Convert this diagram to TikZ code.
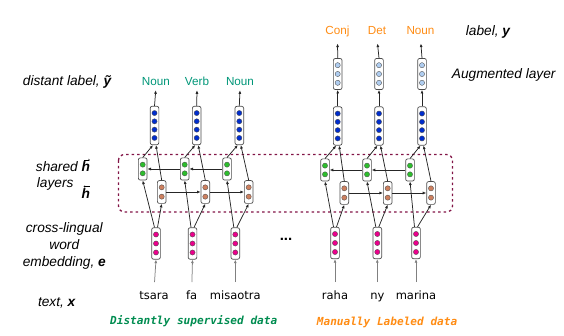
\documentclass[tikz,border=0pt]{standalone}
\usepackage{fontspec}
\setmainfont{Liberation Sans}
\newfontfamily\wordfont{DejaVu Sans}
\newfontfamily\codefont{DejaVu Sans Mono}
\usetikzlibrary{arrows.meta}
\definecolor{tagteal}{RGB}{0,150,120}
\definecolor{tagorange}{RGB}{255,140,20}
\definecolor{codegreen}{RGB}{0,140,80}
\definecolor{codeorange}{RGB}{255,140,20}
\definecolor{boxmaroon}{RGB}{130,20,70}
\definecolor{dotblue}{RGB}{0,45,205}
\definecolor{dotlight}{RGB}{175,205,240}
\definecolor{dotgreen}{RGB}{45,190,45}
\definecolor{dotbrown}{RGB}{205,128,95}
\definecolor{dotpink}{RGB}{235,0,140}
\newcommand\mycell[6]{%
  \pgfmathsetmacro\cellh{(#4-1)*#5+13.5}
  \node[cellbox, minimum height=\cellh pt] (#1) at (#2,#3) {};
  \foreach \k in {1,...,#4}{
    \filldraw[draw=black!70, fill=#6, line width=0.35pt]
      (#2, {#3 + (\k - (#4+1)/2)*#5}) circle[radius=2.6pt];
  }%
}
\begin{document}
\begin{tikzpicture}[x=1pt,y=-1pt,
  cellbox/.style={draw=black!70, rounded corners=2pt, minimum width=8.7pt, inner sep=0pt, line width=0.7pt, fill=white},
  arr/.style={-{Latex[length=3.6pt,width=3pt]}, line width=0.75pt, black!85},
  grayarr/.style={arr, black!50},
  tinyarr/.style={-{To[length=1.4pt,width=2.2pt]}, line width=0.55pt},
  tag/.style={font=\fontsize{11.7}{13}\selectfont, inner sep=1pt, text height=8.5pt, text depth=2.5pt, anchor=base},
  side/.style={font=\fontsize{13.7}{16.8}\selectfont\itshape, inner sep=0pt},
  word/.style={font=\wordfont\fontsize{11.5}{13}\selectfont, inner sep=1pt, text height=8pt, text depth=2.5pt, anchor=base},
  code/.style={font=\codefont\fontsize{11.1}{13}\selectfont\bfseries\itshape, inner sep=0pt, anchor=base west},
]
\useasboundingbox (0,0) rectangle (564,336);

% shared layers frame
\draw[boxmaroon, line width=1.3pt, dash pattern=on 2.5pt off 3pt, rounded corners=6pt]
  (118.5,154.5) rectangle (452.5,212);

% ---------- left group ----------
\mycell{B1}{154.5}{125.5}{4}{8.3}{dotblue}
\mycell{B2}{196.7}{125.5}{4}{8.3}{dotblue}
\mycell{B3}{239.3}{125.5}{4}{8.3}{dotblue}
\mycell{G1}{142.7}{169}{2}{8.7}{dotgreen}
\mycell{G2}{184.7}{169}{2}{8.7}{dotgreen}
\mycell{G3}{227}{169}{2}{8.7}{dotgreen}
\mycell{R1}{161.7}{192}{2}{9.3}{dotbrown}
\mycell{R2}{205.3}{192}{2}{9.3}{dotbrown}
\mycell{R3}{248.7}{192}{2}{9.3}{dotbrown}
\mycell{P1}{156}{243.5}{3}{9}{dotpink}
\mycell{P2}{192.5}{243.5}{3}{9}{dotpink}
\mycell{P3}{235.3}{243.5}{3}{9}{dotpink}

\node[tag, text=tagteal] (L1) at (155.8,86) {Noun};
\node[tag, text=tagteal] (L2) at (197,86) {Verb};
\node[tag, text=tagteal] (L3) at (240,86) {Noun};

\node[word] (T1) at (154,299.3) {tsara};
\node[word] (T2) at (191.7,299.3) {fa};
\node[word] (T3) at (235.3,299.3) {misaotra};

% ---------- right group ----------
\mycell{A4}{337.7}{74}{3}{8.8}{dotlight}
\mycell{A5}{379}{74}{3}{8.8}{dotlight}
\mycell{A6}{422}{74}{3}{8.8}{dotlight}
\mycell{B4}{337.7}{126}{4}{8.3}{dotblue}
\mycell{B5}{379}{126}{4}{8.3}{dotblue}
\mycell{B6}{422}{126}{4}{8.3}{dotblue}
\mycell{G4}{325}{170}{2}{8.7}{dotgreen}
\mycell{G5}{367}{170}{2}{8.7}{dotgreen}
\mycell{G6}{410}{170}{2}{8.7}{dotgreen}
\mycell{R4}{344.3}{193}{2}{9.3}{dotbrown}
\mycell{R5}{387.7}{193}{2}{9.3}{dotbrown}
\mycell{R6}{431}{193}{2}{9.3}{dotbrown}
\mycell{P4}{335}{243}{3}{9}{dotpink}
\mycell{P5}{377.3}{243}{3}{9}{dotpink}
\mycell{P6}{416}{243}{3}{9}{dotpink}

\node[tag, text=tagorange] (L4) at (337.5,35) {Conj};
\node[tag, text=tagorange] (L5) at (377,35) {Det};
\node[tag, text=tagorange] (L6) at (420.5,35) {Noun};

\node[word] (T4) at (335,299.3) {raha};
\node[word] (T5) at (377.3,299.3) {ny};
\node[word] (T6) at (416,299.3) {marina};

% ---------- connectors ----------
\foreach \i in {1,...,6}{
  \draw[grayarr, shorten <=8pt] (T\i.north) -- (P\i.south);
  \draw[arr] ([xshift=-1.5pt]P\i.north) -- (G\i.south);
  \draw[arr] ([xshift=1.5pt]P\i.north) -- (R\i.south);
  \draw[arr] (G\i.north) -- ([xshift=-1.5pt]B\i.south);
  \draw[arr] (R\i.north) -- ([xshift=1.5pt]B\i.south);
}
\foreach \i in {1,2,3}{
  \draw[arr, shorten >=0.5pt] (B\i.north) -- (L\i.south);
}
\foreach \i in {4,5,6}{
  \draw[arr] (B\i.north) -- (A\i.south);
  \draw[arr, shorten >=4.8pt] (A\i.north) -- (L\i.south);
}
\draw[arr] (G2.west) -- (G1.east);
\draw[arr] (G3.west) -- (G2.east);
\draw[arr] (R1.east) -- (R2.west);
\draw[arr] (R2.east) -- (R3.west);
\draw[arr] (G5.west) -- (G4.east);
\draw[arr] (G6.west) -- (G5.east);
\draw[arr] (R4.east) -- (R5.west);
\draw[arr] (R5.east) -- (R6.west);

\node[font=\fontsize{15}{16}\selectfont\bfseries, inner sep=0pt] (dots) at (286,239) {...};

% ---------- side labels ----------
\node[side, anchor=base west] (sdl) at (22.7,86) {distant label, \textbf{\~y}};
\node[side, anchor=base west] (ssh) at (35.7,171.7) {shared};
\node[side, anchor=base west] (sla) at (36.7,187.3) {layers};
\node[side, anchor=base west, font=\fontsize{13.7}{16.8}\selectfont\bfseries\itshape] (sh1) at (81.5,171.7) {h};
\node[side, anchor=base west, font=\fontsize{13.7}{16.8}\selectfont\bfseries\itshape] (sh2) at (81.5,198.3) {h};
\draw[tinyarr] ([xshift=-2.2pt,yshift=1.6pt]sh1.north) -- ([xshift=3.8pt,yshift=1.6pt]sh1.north);
\draw[tinyarr] ([xshift=3.8pt,yshift=1.6pt]sh2.north) -- ([xshift=-2.2pt,yshift=1.6pt]sh2.north);
\node[side, align=center, anchor=base] (semb) at (64.3,266) {cross-lingual\\word\\embedding, \textbf{e}};
\node[side, anchor=base] (stx) at (56.7,306) {text, \textbf{x}};
\node[side, anchor=base west] (sly) at (465.7,35.7) {label, \textbf{y}};
\node[side, anchor=base west] (saug) at (451.7,78.3) {Augmented layer};

\node[code, text=codegreen] (cd1) at (110,324.3) {Distantly supervised data};
\node[code, text=codeorange] (cd2) at (316.7,325) {Manually Labeled data};
\end{tikzpicture}
\end{document}
